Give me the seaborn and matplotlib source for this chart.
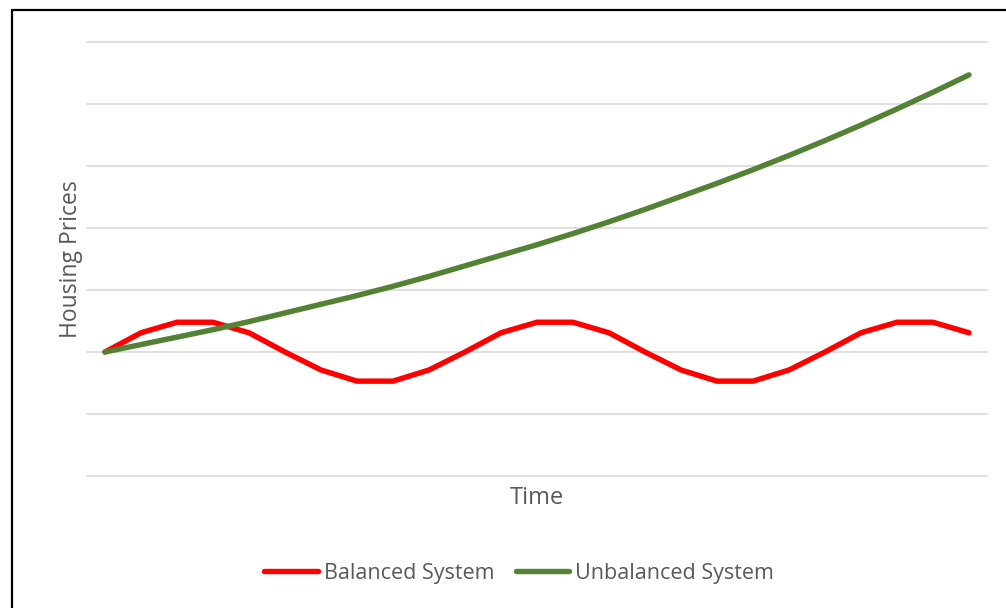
import matplotlib
matplotlib.use("Agg")
import matplotlib.pyplot as plt
from matplotlib.lines import Line2D
import seaborn as sns
import pandas as pd

sns.set_style("white")
plt.rcParams['font.family'] = ['Open Sans', 'DejaVu Sans']

# 25 time steps, values in gridline units (0 = start level)
time_steps = list(range(25))
balanced = [0.0, 0.31, 0.48, 0.48, 0.31, 0.0, -0.29, -0.47, -0.47, -0.29,
            0.0, 0.31, 0.48, 0.48, 0.31, 0.0, -0.29, -0.47, -0.47, -0.29,
            0.0, 0.31, 0.48, 0.48, 0.31]
unbalanced = [0.0, 0.12, 0.24, 0.36, 0.49, 0.63, 0.77, 0.91, 1.06, 1.22,
              1.39, 1.56, 1.73, 1.91, 2.10, 2.30, 2.51, 2.72, 2.94, 3.17,
              3.41, 3.66, 3.92, 4.19, 4.47]
series_names = ['Balanced System', 'Unbalanced System']
series_colors = ['#ff0000', '#548235']

df = pd.DataFrame({
    'time': time_steps * 2,
    'price': balanced + unbalanced,
    'series': [series_names[0]] * 25 + [series_names[1]] * 25,
})

fig = plt.figure(figsize=(10.06, 6.08), dpi=100)
ax = fig.add_axes([87 / 1006, 1 - 476 / 608, 900 / 1006, 434 / 608])

for y in range(-2, 6):
    ax.axhline(y, color='#d9d9d9', linewidth=1.2, zorder=0, clip_on=False)

sns.lineplot(data=df, x='time', y='price', hue='series',
             palette=dict(zip(series_names, series_colors)),
             linewidth=3.9, ax=ax, legend=False, zorder=3,
             solid_capstyle='round', solid_joinstyle='round')

ax.set_xlim(-0.5, 24.5)
ax.set_ylim(-2, 5)
ax.set_xticks([])
ax.set_yticks([])
for s in ax.spines.values():
    s.set_visible(False)

ax.set_xlabel('Time', fontsize=17, color='#595959', labelpad=7)
ax.set_ylabel('Housing Prices', fontsize=16.5, color='#595959', labelpad=3)

handles = [Line2D([0], [0], color=c, linewidth=3.9, solid_capstyle='round')
           for c in series_colors]
fig.legend(handles, series_names, loc='center', bbox_to_anchor=(519 / 1006, 1 - 573 / 608),
           ncol=2, frameon=False, fontsize=15.5, handlelength=2.5, handletextpad=0.25,
           columnspacing=1.0, labelcolor='#595959')

# outer chart border (top and left edges visible)
fig.add_artist(Line2D([11.5 / 1006, 1.0], [1 - 9.5 / 608, 1 - 9.5 / 608],
                      transform=fig.transFigure, color='black', linewidth=1.6))
fig.add_artist(Line2D([11.5 / 1006, 11.5 / 1006], [0.0, 1 - 9.5 / 608],
                      transform=fig.transFigure, color='black', linewidth=1.6))

fig.savefig('out.png', dpi=100)
plt.close()
